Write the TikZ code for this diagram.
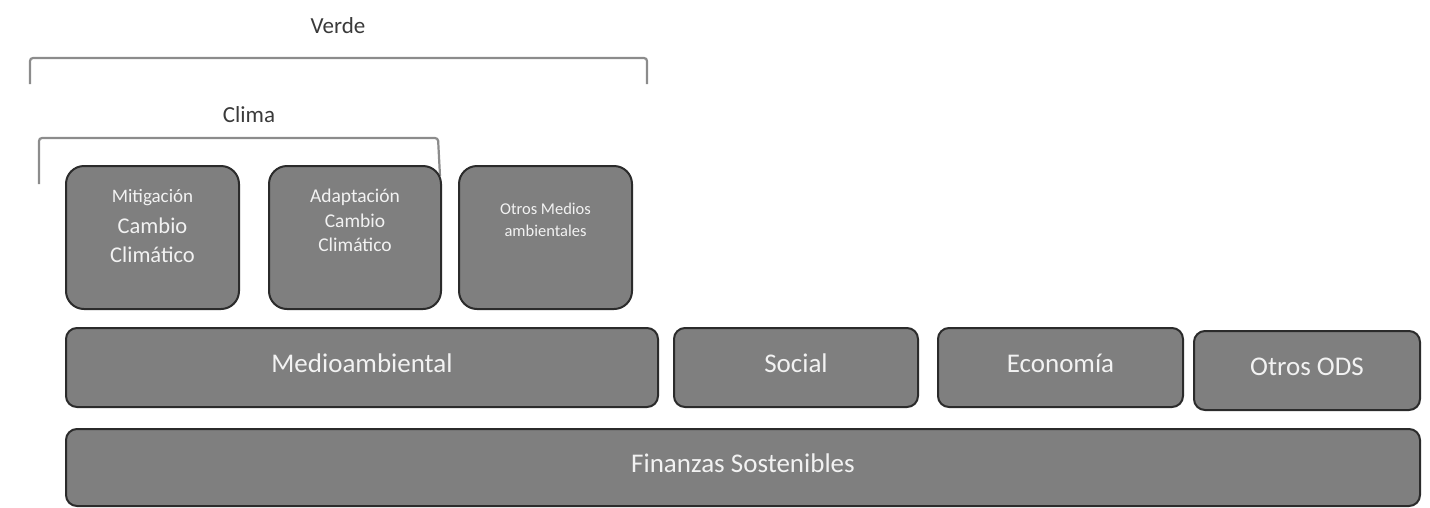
\documentclass[tikz,border=0pt]{standalone}
\usepackage{fontspec}
\setmainfont{Carlito}
\definecolor{boxfill}{HTML}{7F7F7F}
\definecolor{boxline}{HTML}{2B2B2B}
\definecolor{boxtext}{HTML}{F2F2F2}
\definecolor{brk}{HTML}{8C8C8C}
\definecolor{lbl}{HTML}{3A3A3A}
\tikzset{
  box/.style={draw=boxline, line width=2pt, fill=boxfill, rounded corners=18pt, text=boxtext, align=center, inner sep=0pt},
  wide/.style={box, rounded corners=11pt, font=\fontsize{27}{30}\selectfont, text height=17pt, text depth=8pt},
  bracket/.style={draw=brk, line width=2.2pt, rounded corners=3pt},
  toplabel/.style={text=lbl, font=\fontsize{23}{26}\selectfont, inner sep=0pt},
  boxlabel/.style={text=boxtext, align=center, anchor=north, inner sep=0pt}
}
\begin{document}
\begin{tikzpicture}[x=1pt,y=-1pt]
\useasboundingbox (0,0) rectangle (1430,507);
% labels and brackets
\node[toplabel] (verde) at (338,26) {Verde};
\node[toplabel] (clima) at (249,115) {Clima};
\coordinate (v1) at (30,84);
\coordinate (v2) at (647,84);
\draw[bracket] (v1) -- (30,58) -- (647,58) -- (v2);
\coordinate (c1) at (39,184);
\coordinate (c2) at (440,176);
\draw[bracket] (c1) -- (39,138) -- (438,138) -- (c2);
% top row
\node[box, minimum width=173pt, minimum height=143pt, anchor=north west] (mit) at (65,165) {};
\node[boxlabel, font=\fontsize{22.5}{28.5}\selectfont] (mitt) at ([yshift=-24pt]mit.north) {{\fontsize{19}{22}\selectfont Mitigación}\\[3pt]Cambio\\Climático};
\node[box, minimum width=172pt, minimum height=143pt, anchor=north west] (ada) at (268,165) {};
\node[boxlabel, font=\fontsize{19.5}{24.5}\selectfont] (adat) at ([yshift=-24pt]ada.north) {Adaptación\\Cambio\\Climático};
\node[box, minimum width=173pt, minimum height=143pt, anchor=north west] (otm) at (458,165) {};
\node[boxlabel, font=\fontsize{16.5}{22}\selectfont] (otmt) at ([yshift=-38pt]otm.north) {Otros Medios\\ambientales};
% middle row
\node[wide, minimum width=592pt, minimum height=79pt, anchor=north west] (med) at (65,327) {Medioambiental};
\node[wide, minimum width=244pt, minimum height=79pt, anchor=north west] (soc) at (673,327) {Social};
\node[wide, minimum width=245pt, minimum height=79pt, anchor=north west] (eco) at (937,327) {Economía};
\node[wide, minimum width=226pt, minimum height=79pt, anchor=north west] (ods) at (1193,330) {Otros ODS};
% bottom row
\node[wide, minimum width=1354pt, minimum height=77pt, anchor=north west] (fin) at (65,428) {Finanzas Sostenibles};
\end{tikzpicture}
\end{document}
